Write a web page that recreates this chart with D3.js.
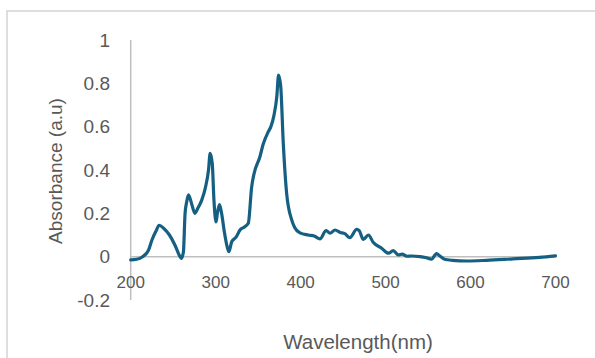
<!DOCTYPE html>
<html lang="en">
<head>
  <meta charset="UTF-8">
  <title>Absorbance spectrum</title>
  <style>
    body {
      margin: 0;
      padding: 0;
      background: #fff;
      font-family: 'Liberation Sans', Arial, sans-serif;
      overflow: hidden;
    }
    .tick-label { fill: #595959; }
    .axis-title { fill: #595959; }
    .axis-line { stroke: #bfbfbf; stroke-width: 1.5px; }
    .spectrum {
      fill: none;
      stroke: #156082;
      stroke-width: 3.2px;
      stroke-linejoin: round;
      stroke-linecap: round;
    }
  </style>
</head>
<body>
  <div id="chart"></div>

  <script src="https://cdn.jsdelivr.net/npm/d3@7"></script>
  <script>
    const wavelength = [200, 207, 214, 221, 225, 230, 233.5, 239, 245.6, 252, 257, 259.5, 262, 264, 266, 268,
      272, 275.5, 279, 283.5, 288, 291.6, 293.5, 296, 298, 300.5, 302, 304.5, 307, 310, 313.5, 315.5, 319, 324,
      329, 333, 338.4, 342.4, 345, 352, 356, 362, 365, 368.5, 372, 374, 376.5, 379.6, 383.6, 389.5, 393, 399.3,
      409, 416, 422.8, 430, 434.6, 440.5, 446.6, 452, 458, 466, 469, 473.8, 479.7, 485.6, 495.4,
      503.3, 509, 515, 519.5, 525, 531, 540.5, 547, 554, 560, 564, 569.5, 578.5, 596, 618.6, 650, 681, 700];
    const absorbance = [-0.015, -0.012, 0, 0.03, 0.077, 0.12, 0.145, 0.13, 0.10, 0.054, 0.008, -0.008, 0.02, 0.2, 0.255, 0.285,
      0.24, 0.2, 0.223, 0.26, 0.32, 0.40, 0.477, 0.43, 0.26, 0.16, 0.2, 0.24, 0.2, 0.12, 0.046, 0.023, 0.07, 0.09,
      0.125, 0.135, 0.154, 0.323, 0.38, 0.46, 0.52, 0.577, 0.6, 0.65, 0.74, 0.838, 0.79, 0.523, 0.29, 0.17, 0.135, 0.11,
      0.10, 0.095, 0.082, 0.12, 0.108, 0.123, 0.112, 0.106, 0.088, 0.126, 0.12, 0.08, 0.10, 0.065, 0.039,
      0.016, 0.028, 0.008, 0.012, 0.002, 0.003, 0, -0.004, -0.012, 0.014, 0.003, -0.012, -0.017, -0.02, -0.017, -0.01, -0.003, 0.004];
    const xTicks = [200, 300, 400, 500, 600, 700];
    const yTicks = [-0.2, 0, 0.2, 0.4, 0.6, 0.8, 1];

    const width = 595, height = 358;

    const x = d3.scaleLinear().domain([200, 700]).range([130.7, 555.5]);
    const y = d3.scaleLinear().domain([-0.2, 1]).range([300, 40]);

    const svg = d3.select('#chart')
      .append('svg')
      .attr('width', width)
      .attr('height', height);

    // Rahmen
    svg.append('rect')
      .attr('x', 7).attr('y', 11)
      .attr('width', 620).attr('height', 400)
      .attr('fill', 'none')
      .attr('stroke', '#d9d9d9')
      .attr('stroke-width', 1.7);

    // Achsenlinien
    svg.append('line').attr('class', 'axis-line')
      .attr('x1', x(200)).attr('x2', x(200))
      .attr('y1', y(1)).attr('y2', y(-0.2));
    svg.append('line').attr('class', 'axis-line')
      .attr('x1', x(200)).attr('x2', x(700))
      .attr('y1', y(0)).attr('y2', y(0));

    // Y-Beschriftung
    svg.selectAll('text.ytick')
      .data(yTicks)
      .join('text')
      .attr('class', 'tick-label ytick')
      .attr('x', 110)
      .attr('y', d => y(d))
      .attr('dy', '0.35em')
      .attr('text-anchor', 'end')
      .style('font-size', '19px')
      .text(d => String(+d.toFixed(1)));

    // X-Beschriftung
    svg.selectAll('text.xtick')
      .data(xTicks)
      .join('text')
      .attr('class', 'tick-label xtick')
      .attr('x', d => x(d))
      .attr('y', 282)
      .attr('dy', '0.35em')
      .attr('text-anchor', 'middle')
      .style('font-size', '17px')
      .text(d => d);

    // Kurve
    const line = d3.line()
      .x((d, i) => x(wavelength[i]))
      .y(d => y(d))
      .curve(d3.curveMonotoneX);

    svg.append('path')
      .datum(absorbance)
      .attr('class', 'spectrum')
      .attr('d', line);

    // Achsentitel
    svg.append('text')
      .attr('class', 'axis-title')
      .attr('x', 358).attr('y', 342)
      .attr('dy', '0.35em')
      .attr('text-anchor', 'middle')
      .style('font-size', '20.5px')
      .text('Wavelength(nm)');

    svg.append('text')
      .attr('class', 'axis-title')
      .attr('transform', 'translate(55,171) rotate(-90)')
      .attr('dy', '0.35em')
      .attr('text-anchor', 'middle')
      .style('font-size', '19px')
      .text('Absorbance (a.u)');
  </script>
</body>
</html>
